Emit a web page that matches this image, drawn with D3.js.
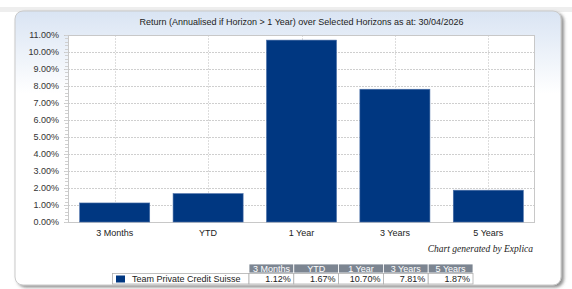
<!DOCTYPE html>
<html><head><meta charset="utf-8">
<script src="https://cdn.jsdelivr.net/npm/d3@7"></script>
<style>html,body{margin:0;padding:0;background:#fff;}svg{display:block;font-family:"Liberation Sans",Arial,sans-serif;}</style>
</head><body>
<svg id="c" width="572" height="289"></svg>
<script>
const categories = ["3 Months", "YTD", "1 Year", "3 Years", "5 Years"];
const values = [1.12, 1.67, 10.70, 7.81, 1.87];
const seriesName = "Team Private Credit Suisse";
const yTicks = [0,1,2,3,4,5,6,7,8,9,10,11];
const title = "Return (Annualised if Horizon > 1 Year) over Selected Horizons as at: 30/04/2026";

const svg = d3.select("#c");
const defs = svg.append("defs");
const g1 = defs.append("linearGradient").attr("id","pg").attr("x1",0).attr("y1",0).attr("x2",0).attr("y2",1);
g1.append("stop").attr("offset","0%").attr("stop-color","#d9e4f3");
g1.append("stop").attr("offset","30%").attr("stop-color","#ffffff");
g1.append("stop").attr("offset","100%").attr("stop-color","#ffffff");
const f = defs.append("filter").attr("id","sh").attr("x","-5%").attr("y","-5%").attr("width","110%").attr("height","115%");
f.append("feDropShadow").attr("dx",2.5).attr("dy",2).attr("stdDeviation",1.5).attr("flood-color","#555").attr("flood-opacity",0.65);

svg.append("rect").attr("x",0).attr("y",7).attr("width",572).attr("height",5).attr("fill","#eeeeee");

// panel
svg.append("rect").attr("x",15).attr("y",11).attr("width",546).attr("height",274).attr("rx",8)
  .attr("fill","url(#pg)").attr("stroke","#c9c9c9").attr("filter","url(#sh)");

const L=68, R=535, T=35, B=222;
const x = d3.scaleBand().domain(categories).range([L,R]).paddingInner(0.25).paddingOuter(0.125);
const y = d3.scaleLinear().domain([0,11]).range([B,T]);

svg.append("text").attr("x",(L+R)/2).attr("y",25).attr("text-anchor","middle")
  .attr("font-size",9).attr("fill","#222").text(title);

svg.append("rect").attr("x",L).attr("y",T).attr("width",R-L).attr("height",B-T).attr("fill","#fff");

// horizontal grid
svg.append("g").selectAll("line").data(yTicks.filter(d=>d>0&&d<11)).join("line")
  .attr("x1",L).attr("x2",R).attr("y1",d=>y(d)+0.5).attr("y2",d=>y(d)+0.5)
  .attr("stroke","#cfcfcf").attr("stroke-dasharray","2,1");
// vertical grid at category centers
svg.append("g").selectAll("line").data(categories).join("line")
  .attr("x1",d=>Math.round(x(d)+x.bandwidth()/2)+0.5).attr("x2",d=>Math.round(x(d)+x.bandwidth()/2)+0.5)
  .attr("y1",T).attr("y2",B).attr("stroke","#dddddd").attr("stroke-dasharray","2,1");

svg.append("rect").attr("x",L+0.5).attr("y",T+0.5).attr("width",R-L-1).attr("height",B-T)
  .attr("fill","none").attr("stroke","#c8c8c8");

// y axis
const yAxis = d3.axisLeft(y).tickValues(yTicks).tickSize(4).tickFormat(d=>d.toFixed(2)+"%");
const ya = svg.append("g").attr("transform",`translate(${L},0)`).call(yAxis);
ya.select(".domain").attr("stroke","#c8c8c8");
ya.selectAll(".tick line").attr("stroke","#c8c8c8");
ya.selectAll("text").attr("font-size",9).attr("fill","#333").attr("font-family","Liberation Sans, Arial, sans-serif").attr("x",-9);
// minor ticks
const minor = d3.range(0,11.001,0.2);
svg.append("g").selectAll("line").data(minor).join("line")
  .attr("x1",L-3).attr("x2",L).attr("y1",d=>Math.round(y(d))+0.5).attr("y2",d=>Math.round(y(d))+0.5)
  .attr("stroke","#d0d0d0");

// bars
svg.append("g").selectAll("rect").data(values).join("rect")
  .attr("x",(d,i)=>x(categories[i])).attr("width",x.bandwidth())
  .attr("y",d=>y(d)).attr("height",d=>B-y(d))
  .attr("fill","#003781").attr("stroke","#4a6fa8").attr("stroke-width",0.6);

// x labels
const xAxis = d3.axisBottom(x).tickSize(0).tickPadding(8);
const xa = svg.append("g").attr("transform",`translate(0,${B})`).call(xAxis);
xa.select(".domain").remove();
xa.selectAll("text").attr("font-size",9).attr("fill","#222").attr("font-family","Liberation Sans, Arial, sans-serif");

svg.append("text").attr("x",533).attr("y",252).attr("text-anchor","end")
  .attr("font-family","Liberation Serif, Times New Roman, serif").attr("font-style","italic")
  .attr("font-size",9.5).attr("fill","#222").text("Chart generated by Explica");

// table
const tx0 = 249, cw = 44.8, hy = 264, hh = 9, ry = 273, rh = 10.5;
const tab = svg.append("g");
tab.selectAll("rect.h").data(categories).join("rect").attr("class","h")
  .attr("x",(d,i)=>tx0+i*cw).attr("y",hy).attr("width",cw).attr("height",hh)
  .attr("fill","#7c8591").attr("stroke","#ffffff").attr("stroke-width",0.8);
tab.selectAll("text.h").data(categories).join("text").attr("class","h")
  .attr("x",(d,i)=>tx0+i*cw+cw/2).attr("y",hy+7.8).attr("text-anchor","middle")
  .attr("font-size",9).attr("fill","#fff").text(d=>d);
tab.append("rect").attr("x",112.5).attr("y",ry+0.5).attr("width",tx0-112.5).attr("height",rh)
  .attr("fill","#fff").attr("stroke","#b0b0b0").attr("stroke-width",0.8);
tab.append("rect").attr("x",116).attr("y",ry+2.5).attr("width",9).attr("height",7).attr("fill","#003781");
tab.append("text").attr("x",132).attr("y",ry+8.8).attr("font-size",9).attr("fill","#222").text(seriesName);
tab.selectAll("rect.v").data(values).join("rect").attr("class","v")
  .attr("x",(d,i)=>tx0+i*cw).attr("y",ry+0.5).attr("width",cw).attr("height",rh)
  .attr("fill","#fff").attr("stroke","#b0b0b0").attr("stroke-width",0.8);
tab.selectAll("text.v").data(values).join("text").attr("class","v")
  .attr("x",(d,i)=>tx0+(i+1)*cw-3).attr("y",ry+8.8).attr("text-anchor","end")
  .attr("font-size",9).attr("fill","#222").text(d=>d.toFixed(2)+"%");
</script>
</body></html>
